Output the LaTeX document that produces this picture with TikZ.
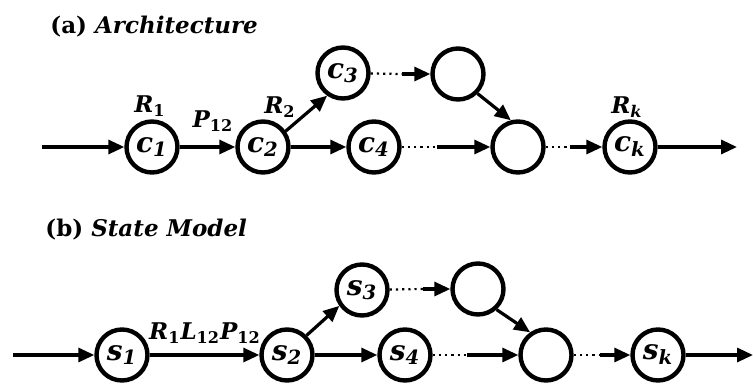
\documentclass[tikz,border=0pt]{standalone}
\usepackage{fontspec}
\setmainfont{DejaVu Serif}
\usepackage{tikz}
\usetikzlibrary{arrows.meta,positioning}

\tikzset{
  st/.style={circle, draw, line width=2.2pt, minimum size=25.5pt, inner sep=0pt,
    font=\fontsize{14}{14}\selectfont\bfseries\itshape},
  arr/.style={line width=1.6pt, -{Triangle[length=8pt,width=7pt]}},
  dots/.style={line width=1.1pt, dotted},
  lbl/.style={font=\fontsize{11.5}{13}\selectfont\bfseries\itshape, inner sep=0pt},
  ttl/.style={font=\fontsize{11.5}{13}\selectfont\bfseries, anchor=west, inner sep=0pt}
}

\begin{document}
\begin{tikzpicture}[x=0.5pt,y=-0.5pt]
  \useasboundingbox (0,0) rectangle (753,385);

  % (a) architecture
  \node[ttl] (ta) at (50,27) {(a) \textit{Architecture}};
  \node[st] (c1) at (152,147) {c\textsubscript{1}};
  \node[st] (c2) at (263,147) {c\textsubscript{2}};
  \node[st] (c3) at (343,73) {c\textsubscript{3}};
  \node[st] (c4) at (374,147) {c\textsubscript{4}};
  \node[st] (ea) at (458,74) {};
  \node[st] (ma) at (518,147) {};
  \node[st] (ck) at (630,147) {c\textsubscript{k}};
  \node[lbl] (r1) at (150,106) {R\textsubscript{\upshape 1}};
  \node[lbl] (p12) at (213,121) {P\textsubscript{\upshape 12}};
  \node[lbl] (r2) at (280,107) {R\textsubscript{\upshape 2}};
  \node[lbl] (rk) at (627,107) {R\textsubscript{k}};
  \coordinate (ain) at (42,147);
  \coordinate (aout) at (737,147);
  \coordinate (a3) at (402,74);
  \coordinate (a4) at (437,147);
  \coordinate (am) at (570,147);
  \draw[arr] (ain) -- (c1);
  \draw[arr] (c1) -- (c2);
  \draw[arr] (c2.35) -- (c3.235);
  \draw[arr] (c2) -- (c4);
  \draw[dots] (c3) -- (a3);
  \draw[arr] (a3) -- (ea);
  \draw[dots] (c4) -- (a4);
  \draw[arr] (a4) -- (ma);
  \draw[arr] (ea.-45) -- (ma.105);
  \draw[dots] (ma) -- (am);
  \draw[arr] (am) -- (ck);
  \draw[arr] (ck) -- (aout);

  % (b) state model
  \node[ttl] (tb) at (45,230) {(b) \textit{State Model}};
  \node[st] (s1) at (122,355) {s\textsubscript{1}};
  \node[st] (s2) at (287,355) {s\textsubscript{2}};
  \node[st] (s3) at (362,290) {s\textsubscript{3}};
  \node[st] (s4) at (405,355) {s\textsubscript{4}};
  \node[st] (eb) at (478,289) {};
  \node[st] (mb) at (546,355) {};
  \node[st] (sk) at (658,355) {s\textsubscript{k}};
  \node[lbl] (rlp) at (205,333) {R\textsubscript{\upshape 1}L\textsubscript{\upshape 12}P\textsubscript{\upshape 12}};
  \coordinate (bin) at (13,355);
  \coordinate (bout) at (753,355);
  \coordinate (b3) at (423,289);
  \coordinate (b4) at (467,355);
  \coordinate (bm) at (600,355);
  \draw[arr] (bin) -- (s1);
  \draw[arr] (s1) -- (s2);
  \draw[arr] (s2.45) -- (s3.215);
  \draw[arr] (s2) -- (s4);
  \draw[dots] (s3) -- (b3);
  \draw[arr] (b3) -- (eb);
  \draw[dots] (s4) -- (b4);
  \draw[arr] (b4) -- (mb);
  \draw[arr] (eb.-48) -- (mb.125);
  \draw[dots] (mb) -- (bm);
  \draw[arr] (bm) -- (sk);
  \draw[arr] (sk) -- (bout);
\end{tikzpicture}
\end{document}
